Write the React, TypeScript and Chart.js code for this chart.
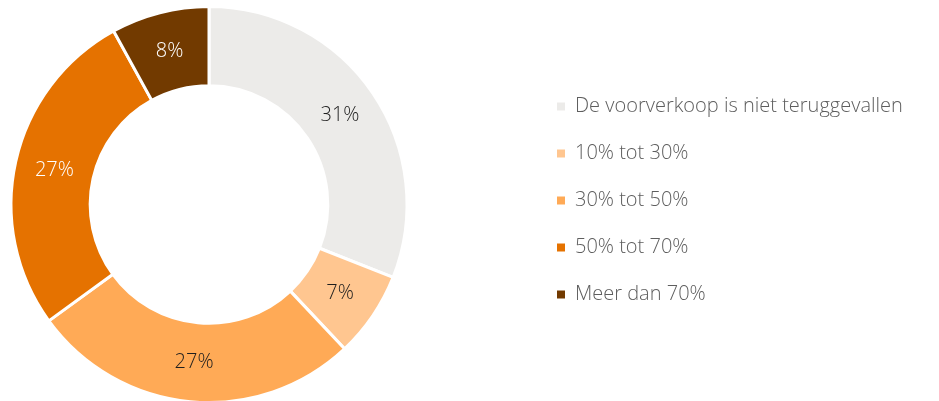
import React, { useEffect, useRef } from "react";
import { Chart, registerables } from "chart.js";

Chart.register(...registerables);

const categories = [
  "De voorverkoop is niet teruggevallen",
  "10% tot 30%",
  "30% tot 50%",
  "50% tot 70%",
  "Meer dan 70%",
];
const values = [31, 7, 27, 27, 8];
const colors = ["#ECEBE9", "#FFC690", "#FFAA56", "#E57200", "#723A00"];
const labelColors = ["#1E1E1E", "#1E1E1E", "#1E1E1E", "#FFFFFF", "#FFFFFF"];

const FONT_FAMILY = "'Open Sans', 'Noto Sans', sans-serif";
const LEGEND_WIDTH = 409;
const LEGEND_SHIFT = -4;

const sliceLabels = {
  id: "sliceLabels",
  afterDatasetsDraw(chart: any) {
    const ctx = chart.ctx;
    const meta = chart.getDatasetMeta(0);
    const total = values.reduce((a, b) => a + b, 0);
    ctx.save();
    ctx.font = `300 20px ${FONT_FAMILY}`;
    ctx.textAlign = "center";
    ctx.textBaseline = "middle";
    meta.data.forEach((arc: any, i: number) => {
      const p = arc.tooltipPosition();
      ctx.fillStyle = labelColors[i];
      ctx.fillText(Math.round((values[i] / total) * 100) + "%", p.x, p.y);
    });
    ctx.restore();
  },
};

const legendLayout = {
  id: "legendLayout",
  beforeLayout(chart: any) {
    const lg = chart.legend;
    if (lg && !lg.__patched) {
      const origFit = lg.fit;
      lg.fit = function () {
        origFit.call(this);
        this.width = LEGEND_WIDTH;
      };
      lg.__patched = true;
    }
  },
  afterLayout(chart: any) {
    const lg = chart.legend;
    if (lg) {
      lg.top += LEGEND_SHIFT;
      lg.bottom += LEGEND_SHIFT;
    }
  },
};

export default function App() {
  const ref = useRef<HTMLCanvasElement | null>(null);

  useEffect(() => {
    if (!ref.current) return;
    const defaultGen = (Chart as any).overrides.doughnut.plugins.legend.labels.generateLabels;
    const chart = new Chart(ref.current, {
      type: "doughnut",
      data: {
        labels: categories,
        datasets: [
          {
            data: values,
            backgroundColor: colors,
            borderColor: "#FFFFFF",
            borderWidth: 3,
          },
        ],
      },
      options: {
        responsive: true,
        maintainAspectRatio: false,
        animation: false,
        cutout: "60%",
        layout: { padding: { top: 5, bottom: 0, left: 0, right: 0 } },
        plugins: {
          tooltip: { enabled: false },
          legend: {
            position: "right",
            labels: {
              boxWidth: 8,
              boxHeight: 8,
              padding: 27,
              color: "#5E5E5E",
              font: { family: FONT_FAMILY, size: 20, weight: "300" as any },
              generateLabels: (c: any) =>
                defaultGen(c).map((it: any) => ({ ...it, lineWidth: 0, strokeStyle: it.fillStyle })),
            },
          },
        },
      },
      plugins: [sliceLabels, legendLayout],
    });
    return () => chart.destroy();
  }, []);

  return (
    <div
      style={{
        position: "fixed",
        left: 0,
        top: 0,
        width: 939,
        height: 401,
        overflow: "hidden",
        background: "#FFFFFF",
      }}
    >
      <div style={{ position: "absolute", left: -112, top: 0, width: 1051, height: 404 }}>
        <canvas ref={ref} />
      </div>
    </div>
  );
}
